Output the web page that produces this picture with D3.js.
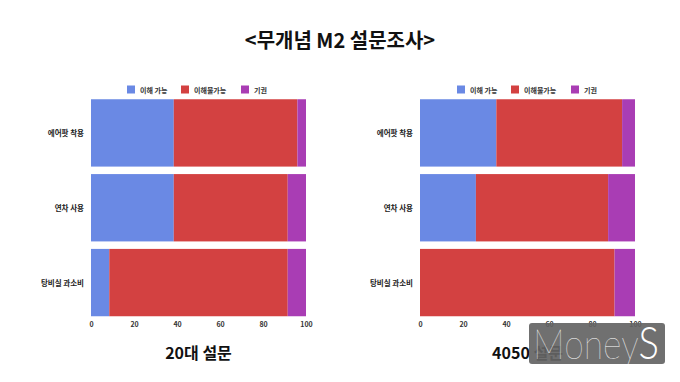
<!DOCTYPE html>
<html><head><meta charset="utf-8">
<script src="https://cdn.jsdelivr.net/npm/d3@7"></script>
<style>
html,body{margin:0;padding:0;background:#fff;}
svg{display:block;}
</style></head>
<body>
<svg id="c" width="680" height="382"></svg>
<script>
const title = "<무개념 M2 설문조사>";
const categories = ["에어팟 착용", "연차 사용", "탕비실 과소비"];
const seriesNames = ["이해 가능", "이해불가능", "기권"];
const colors = ["#6a89e4", "#d34141", "#a93db4"];
const xTicks = [0, 20, 40, 60, 80, 100];
const panelTitles = ["20대 설문", "4050 설문"];
// 20대
const young_understand = [38.5, 38.5, 8.5];
const young_not = [57.5, 53, 83];
const young_abstain = [4, 8.5, 8.5];
// 4050
const old_understand = [35.5, 26, 0];
const old_not = [58.5, 61.5, 90.5];
const old_abstain = [6, 12.5, 9.5];

const panels = [
  {name: panelTitles[0], vals: [young_understand, young_not, young_abstain], x0: 91, x1: 306, legendX: 127},
  {name: panelTitles[1], vals: [old_understand, old_not, old_abstain], x0: 420, x1: 635, legendX: 457}
];

const svg = d3.select("#c");
const font = "'Noto Sans CJK KR', 'Noto Sans', sans-serif";

svg.append("text").attr("x", 340).attr("y", 48).attr("text-anchor", "middle")
  .attr("font-family", font).attr("font-weight", 700).attr("font-size", 20)
  .attr("fill", "#111").text(title);

panels.forEach(p => {
  const g = svg.append("g");
  const x = d3.scaleLinear().domain([0, 100]).range([p.x0, p.x1]);
  const y = d3.scaleBand().domain(categories).range([98.5, 317]).paddingInner(0.1).paddingOuter(0.01);
  const rows = categories.map((c, i) => {
    const o = {cat: c};
    seriesNames.forEach((s, k) => o[s] = p.vals[k][i]);
    return o;
  });
  const stack = d3.stack().keys(seriesNames)(rows);
  stack.forEach((layer, k) => {
    g.selectAll(null).data(layer).enter().append("rect")
      .attr("x", d => x(d[0]))
      .attr("width", d => Math.max(0, x(d[1]) - x(d[0])))
      .attr("y", d => y(d.data.cat))
      .attr("height", y.bandwidth())
      .attr("fill", colors[k]);
  });
  // category labels
  g.selectAll(null).data(categories).enter().append("text")
    .attr("x", p.x0 - 7).attr("y", d => y(d) + y.bandwidth() / 2 + 3)
    .attr("text-anchor", "end").attr("font-family", font).attr("font-weight", 700)
    .attr("font-size", 7.5).attr("fill", "#222").text(d => d);
  // x axis
  const ax = g.append("g").attr("transform", "translate(0,318)")
    .call(d3.axisBottom(x).tickValues(xTicks).tickSize(0).tickPadding(4));
  ax.select(".domain").remove();
  ax.selectAll("text").attr("font-family", font).attr("font-size", 7)
    .attr("font-weight", 700).attr("fill", "#333");
  // legend
  const lx = [p.legendX, p.legendX + 54, p.legendX + 114];
  seriesNames.forEach((s, k) => {
    g.append("rect").attr("x", lx[k]).attr("y", 85.5).attr("width", 8).attr("height", 8).attr("fill", colors[k]);
    g.append("text").attr("x", lx[k] + 13).attr("y", 92.5).attr("font-family", font)
      .attr("font-weight", 700).attr("font-size", 7).attr("fill", "#333").text(s);
  });
  // panel title
  svg.append("text").attr("x", (p.x0 + p.x1) / 2).attr("y", 359).attr("text-anchor", "middle")
    .attr("font-family", font).attr("font-weight", 700).attr("font-size", 16)
    .attr("fill", "#111").text(p.name);
});

// watermark
svg.append("rect").attr("x", 529).attr("y", 323).attr("width", 136).attr("height", 41)
  .attr("rx", 3).attr("fill", "rgb(100,100,100)").attr("fill-opacity", 0.92);
const wm = svg.append("text").attr("x", 533).attr("y", 359)
  .attr("font-family", "Lato, Roboto, sans-serif").attr("fill", "#fff")
  .attr("textLength", 126).attr("lengthAdjust", "spacingAndGlyphs");
wm.append("tspan").attr("font-weight", 100).attr("font-size", 42).text("Money");
wm.append("tspan").attr("font-weight", 300).attr("font-size", 45).text("S");
</script>
</body></html>
